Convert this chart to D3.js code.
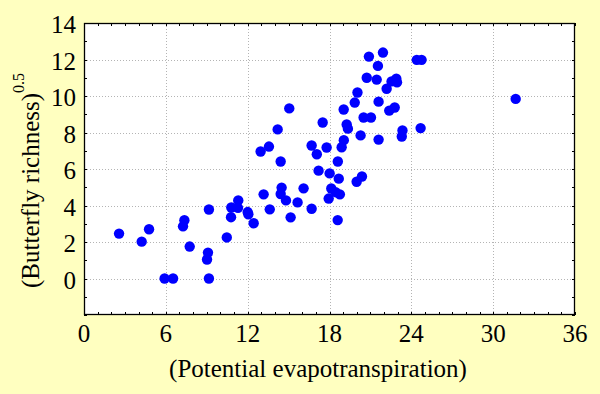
<!DOCTYPE html>
<html>
<head>
<meta charset="utf-8">
<script src="https://cdn.jsdelivr.net/npm/d3@7"></script>
<style>
  body { margin: 0; background: #ffffc0; }
  svg { display: block; }
  text { font-family: "Liberation Serif", "Times New Roman", serif; fill: #000; }
</style>
</head>
<body>
<svg id="chart" width="600" height="394"></svg>
<script>
// ====== Data ======
// Potential evapotranspiration (x) vs (butterfly richness)^0.5 (y)
const pet = [
  2.57, 4.23, 4.77, 5.91, 6.53, 9.16, 7.36, 7.26, 7.75, 9.02,
  9.09, 9.16, 10.47, 10.78, 10.8, 11.31, 11.29, 12.0, 12.05, 12.44,
  12.95, 13.56, 14.42, 13.17, 13.62, 14.49, 14.42, 14.81, 15.15, 15.66,
  16.1, 16.69, 17.2, 18.01, 18.68, 18.61, 17.07, 19.99, 20.38, 18.13,
  18.45, 18.76, 17.94, 18.6, 17.5, 19.26, 19.35, 20.5, 21.04, 20.28,
  21.6, 23.35, 23.3, 16.69, 17.79, 19.05, 18.89, 20.89, 21.92, 21.55,
  20.73, 21.46, 22.55, 22.9, 22.95, 22.19, 20.05, 19.85, 21.6, 19.04,
  22.38, 22.78, 15.05, 24.4, 24.75, 14.2, 24.68, 31.65
];
const richness = [
  2.46, 2.02, 2.70, 0, 0, 0, 3.19, 2.86, 1.75, 1.04,
  1.42, 3.78, 2.25, 3.36, 3.89, 4.28, 3.87, 3.64, 3.52, 3.03,
  6.96, 7.23, 6.41, 4.61, 3.79, 4.98, 4.63, 4.28, 3.35, 4.17,
  4.94, 3.82, 5.91, 5.76, 5.47, 6.41, 6.81, 5.30, 5.59, 4.93,
  4.73, 4.61, 4.38, 3.2, 8.55, 8.44, 8.21, 8.82, 8.82, 7.84,
  7.61, 8.11, 7.78, 7.29, 7.18, 7.58, 7.19, 12.16, 12.38, 11.65,
  11.0, 10.9, 10.8, 10.95, 10.75, 10.4, 10.19, 9.64, 9.69, 9.26,
  9.2, 9.37, 9.32, 11.98, 11.98, 8.17, 8.24, 9.84
];

const xTicks = [0, 6, 12, 18, 24, 30, 36];
const yTicks = [0, 2, 4, 6, 8, 10, 12, 14];
const xMinor = d3.range(0, 37, 1);
const yMinor = d3.range(-2, 15, 1);

// ====== Layout ======
const svg = d3.select("#chart");
const plot = { left: 84, right: 575, top: 23, bottom: 315 };

const x = d3.scaleLinear().domain([0, 36]).range([plot.left, plot.right]);
const y = d3.scaleLinear().domain([-2, 14]).range([plot.bottom, plot.top]);
const px = v => Math.round(v) + 0.5;

// plot background
svg.append("rect")
  .attr("x", plot.left).attr("y", plot.top)
  .attr("width", plot.right - plot.left).attr("height", plot.bottom - plot.top)
  .attr("fill", "#fff");

// dotted grid
const grid = svg.append("g").attr("stroke", "#b4b4b4").attr("stroke-dasharray", "1,2");
grid.selectAll(".gx").data(xTicks.filter(d => d > 0 && d < 36)).join("line")
  .attr("x1", d => px(x(d))).attr("x2", d => px(x(d)))
  .attr("y1", plot.top).attr("y2", plot.bottom);
grid.selectAll(".gy").data(yTicks.filter(d => d < 14)).join("line")
  .attr("y1", d => px(y(d))).attr("y2", d => px(y(d)))
  .attr("x1", plot.left).attr("x2", plot.right);

// inner ticks on all four sides
const tk = 3;
const ticks = svg.append("g").attr("stroke", "#000");
ticks.selectAll(".tb").data(xMinor).join("line")
  .attr("x1", d => px(x(d))).attr("x2", d => px(x(d)))
  .attr("y1", plot.bottom).attr("y2", plot.bottom - tk);
ticks.selectAll(".tt").data(xMinor).join("line")
  .attr("x1", d => px(x(d))).attr("x2", d => px(x(d)))
  .attr("y1", plot.top).attr("y2", plot.top + tk);
ticks.selectAll(".tl").data(yMinor).join("line")
  .attr("y1", d => px(y(d))).attr("y2", d => px(y(d)))
  .attr("x1", plot.left).attr("x2", plot.left + tk);
ticks.selectAll(".tr").data(yMinor).join("line")
  .attr("y1", d => px(y(d))).attr("y2", d => px(y(d)))
  .attr("x1", plot.right).attr("x2", plot.right - tk);

// frame
svg.append("rect")
  .attr("x", plot.left + 0.5).attr("y", plot.top + 0.5)
  .attr("width", plot.right - plot.left - 1).attr("height", plot.bottom - plot.top - 1)
  .attr("fill", "none").attr("stroke", "#000").attr("stroke-width", 1.3);

// tick labels
svg.append("g").selectAll("text").data(xTicks).join("text")
  .attr("x", d => x(d)).attr("y", 342)
  .attr("text-anchor", "middle").attr("font-size", 25)
  .text(d => d);
svg.append("g").selectAll("text").data(yTicks).join("text")
  .attr("x", 76).attr("y", d => y(d)).attr("dy", "0.4em")
  .attr("text-anchor", "end").attr("font-size", 25)
  .text(d => d);

// points
svg.append("g").selectAll("circle").data(pet.map((p, i) => [p, richness[i]])).join("circle")
  .attr("cx", d => x(d[0])).attr("cy", d => y(d[1]))
  .attr("r", 5.2).attr("fill", "#0000ff");

// axis titles
svg.append("text")
  .attr("x", 318).attr("y", 377)
  .attr("text-anchor", "middle").attr("font-size", 25)
  .text("(Potential evapotranspiration)");

const yt = svg.append("text")
  .attr("transform", "translate(39,288) rotate(-90)")
  .attr("text-anchor", "start").attr("font-size", 25);
yt.append("tspan").text("(Butterfly richness)");
yt.append("tspan").attr("font-size", 16).attr("dy", -15).text("0.5");
</script>
</body>
</html>
